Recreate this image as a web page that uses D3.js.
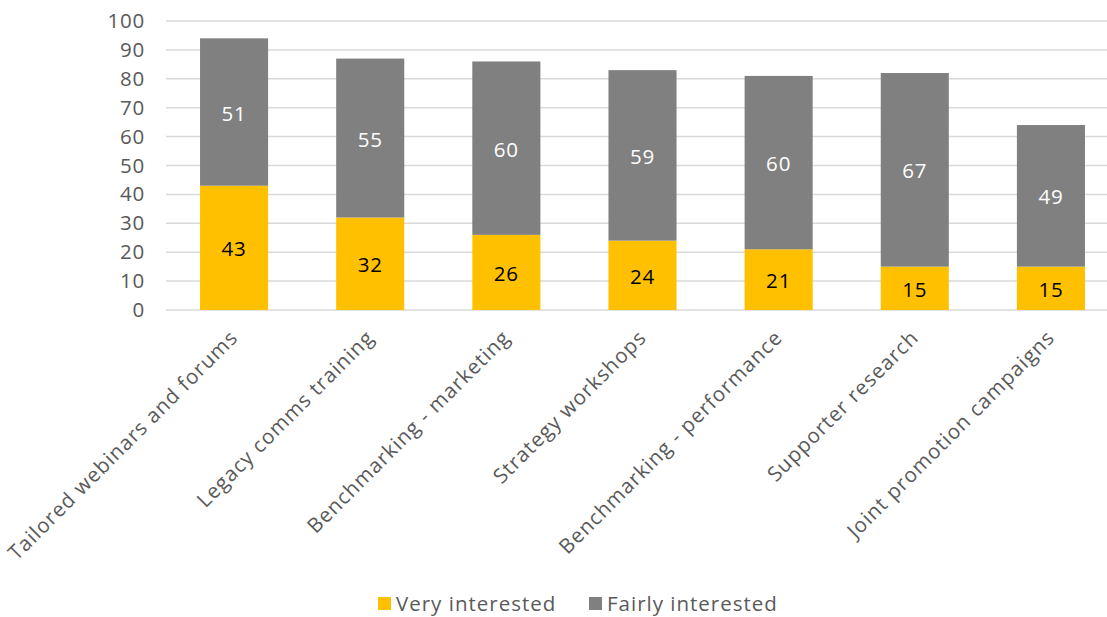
<!DOCTYPE html>
<html>
<head>
<meta charset="utf-8">
<script src="https://cdn.jsdelivr.net/npm/d3@7"></script>
<style>
  html, body { margin: 0; padding: 0; background: #fff; }
  svg { display: block; font-family: "Open Sans", sans-serif; }
</style>
</head>
<body>
<svg id="chart" width="1107" height="617"></svg>
<script>
const categories = [
  "Tailored webinars and forums",
  "Legacy comms training",
  "Benchmarking - marketing",
  "Strategy workshops",
  "Benchmarking - performance",
  "Supporter research",
  "Joint promotion campaigns"
];
const veryInterested = [43, 32, 26, 24, 21, 15, 15];
const fairlyInterested = [51, 55, 60, 59, 60, 67, 49];
const seriesNames = ["Very interested", "Fairly interested"];
const seriesColors = ["#FFC000", "#808080"];
const labelColors = ["#000000", "#ffffff"];
const yTicks = [0, 10, 20, 30, 40, 50, 60, 70, 80, 90, 100];

const FONT = "'Open Sans', sans-serif";
const svg = d3.select("#chart");

const x = d3.scaleBand().domain(categories).range([166, 1119]).paddingInner(0.5).paddingOuter(0.25);
const y = d3.scaleLinear().domain([0, 100]).range([310, 21]);

const rows = categories.map((c, i) => ({ cat: c, v0: veryInterested[i], v1: fairlyInterested[i] }));
const stack = d3.stack().keys(["v0", "v1"])(rows);

// gridlines
svg.append("g")
  .selectAll("line")
  .data(yTicks)
  .join("line")
  .attr("x1", 166).attr("x2", 1107)
  .attr("y1", d => y(d)).attr("y2", d => y(d))
  .attr("stroke", "#d9d9d9").attr("stroke-width", 1.5);

// y axis labels
const yAxis = svg.append("g")
  .attr("transform", "translate(145,0)")
  .call(d3.axisLeft(y).tickValues(yTicks).tickSize(0).tickPadding(0));
yAxis.select(".domain").remove();
yAxis.selectAll("text")
  .attr("font-size", 20.5).attr("fill", "#595959")
  .attr("letter-spacing", 0.8)
  .attr("font-family", FONT);

// stacked bars with value labels centred in each segment
stack.forEach((layer, si) => {
  const g = svg.append("g");
  g.selectAll("rect")
    .data(layer)
    .join("rect")
    .attr("x", d => x(d.data.cat))
    .attr("width", x.bandwidth())
    .attr("y", d => y(d[1]))
    .attr("height", d => y(d[0]) - y(d[1]))
    .attr("fill", seriesColors[si]);
  g.selectAll("text")
    .data(layer)
    .join("text")
    .attr("x", d => x(d.data.cat) + x.bandwidth() / 2)
    .attr("y", d => (y(d[0]) + y(d[1])) / 2)
    .attr("dy", "0.42em")
    .attr("text-anchor", "middle")
    .attr("font-size", 20.5)
    .attr("letter-spacing", 0.8)
    .attr("font-family", FONT)
    .attr("fill", labelColors[si])
    .text(d => d[1] - d[0]);
});

// rotated category labels
const xAxis = svg.append("g")
  .attr("transform", "translate(0,310)")
  .call(d3.axisBottom(x).tickSize(0).tickPadding(0));
xAxis.select(".domain").remove();
xAxis.selectAll("text")
  .attr("font-size", 20.5).attr("fill", "#595959")
  .attr("font-family", FONT)
  .attr("letter-spacing", 1)
  .attr("text-anchor", "end")
  .attr("dy", null).attr("y", null)
  .attr("transform", "translate(5,29) rotate(-45)");

// legend
const legendX = [378, 589];
const legend = svg.append("g");
seriesNames.forEach((name, i) => {
  legend.append("rect")
    .attr("x", legendX[i]).attr("y", 597)
    .attr("width", 13).attr("height", 13)
    .attr("fill", seriesColors[i]);
  legend.append("text")
    .attr("x", legendX[i] + 18).attr("y", 604)
    .attr("dy", "0.35em")
    .attr("font-size", 20.5).attr("fill", "#595959")
    .attr("font-family", FONT)
    .attr("letter-spacing", 1)
    .text(name);
});
</script>
</body>
</html>
